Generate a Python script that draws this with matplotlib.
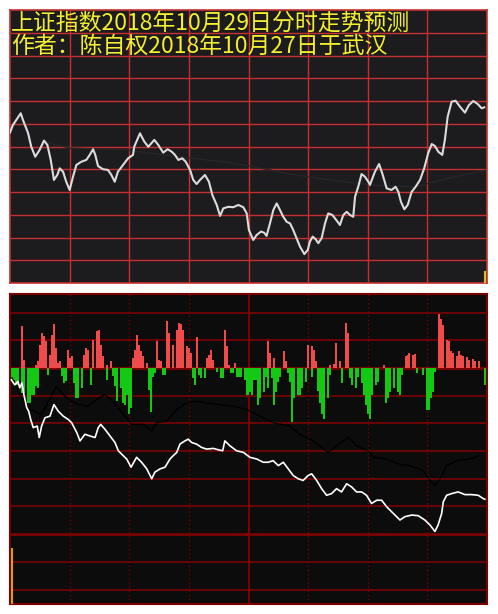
import numpy as np
import matplotlib
matplotlib.use('Agg')
import matplotlib.pyplot as plt

plt.rcParams['font.family'] = ['Noto Sans CJK SC', 'DejaVu Sans']

title_1 = '上证指数2018年10月29日分时走势预测'
title_2 = '作者：陈自权2018年10月27日于武汉'

# top panel: forecast intraday curve (minutes after open, index points)
price_t = [0, 1.5, 5.4, 6.5, 9.1, 10.7, 12.7, 14.9, 17.1, 18.8, 20.5, 22.1, 23.8, 25.0, 26.7,
           28.3, 30.0, 31.7, 33.4, 35.9, 38.4, 40.1, 41.8, 42.9, 44.3, 46.8, 49.3, 51.0, 52.7,
           54.3, 56.9, 59.4, 61.9, 62.5, 65.4, 67.6, 69.6, 72.6, 74.6, 77.1, 79.3, 81.4, 83.0,
           84.7, 86.7, 88.4, 90.6, 92.2, 93.9, 95.6, 98.1, 100.1, 101.8, 104.0, 105.7, 107.3,
           109.8, 112.3, 114.9, 117.4, 119.1, 120.2, 122.4, 124.1, 126.3, 127.9, 129.1, 130.8,
           132.5, 134.2, 135.8, 137.5, 139.2, 140.9, 142.5, 144.2, 145.9, 148.1, 149.8, 150.9,
           152.3, 153.8, 155.1, 156.8, 158.5, 160.1, 162.2, 164.4, 166.0, 167.7, 169.4, 171.1,
           172.7, 173.6, 175.2, 176.9, 178.6, 180.3, 181.1, 183.6, 185.7, 187.3, 189.5, 192.0,
           194.0, 195.4, 196.7, 198.4, 200.1, 202.1, 204.1, 206.3, 208.4, 210.4, 212.2, 213.8,
           215.5, 217.5, 218.8, 220.2, 222.2, 224.2, 226.4, 228.9, 230.9, 233.1, 235.3, 237.3,
           238.6]
price_v = [2606.1, 2609.5, 2614.6, 2611.7, 2605.9, 2599.9, 2595.5, 2598.5, 2602.6, 2600.7,
           2594.1, 2585.3, 2587.5, 2590.4, 2588.9, 2584.5, 2580.9, 2586.7, 2591.9, 2593.3,
           2594.1, 2596.3, 2598.8, 2596.3, 2591.4, 2590.0, 2589.7, 2587.5, 2584.5, 2588.9,
           2591.9, 2594.8, 2596.3, 2599.9, 2605.8, 2602.1, 2599.9, 2602.9, 2600.7, 2597.3,
           2598.8, 2597.7, 2596.3, 2594.1, 2594.8, 2593.3, 2589.7, 2585.3, 2583.5, 2585.3,
           2587.5, 2584.5, 2578.7, 2574.3, 2569.5, 2572.8, 2573.5, 2573.3, 2574.3, 2573.3,
           2570.6, 2563.3, 2558.9, 2561.1, 2562.6, 2562.1, 2560.7, 2566.2, 2572.1, 2575.0,
           2572.1, 2569.1, 2566.9, 2566.2, 2563.3, 2559.7, 2556.0, 2552.7, 2554.5, 2558.2,
           2560.4, 2559.2, 2557.5, 2559.7, 2566.2, 2570.6, 2569.9, 2567.4, 2565.5, 2569.9,
           2571.3, 2569.9, 2569.1, 2577.9, 2582.3, 2587.9, 2586.7, 2584.5, 2583.1, 2588.9,
           2592.3, 2588.2, 2581.6, 2580.9, 2582.3, 2580.1, 2575.7, 2572.4, 2574.3, 2580.1,
           2582.3, 2585.3, 2590.4, 2597.0, 2601.1, 2600.2, 2597.7, 2596.3, 2602.9, 2613.1,
           2619.7, 2620.1, 2617.5, 2614.9, 2618.2, 2620.0, 2618.7, 2616.8, 2617.2]
avg_t = [17.6, 30.2, 57.9, 85.5, 108.1, 120.7, 140.9, 161.0, 181.1, 203.7, 221.3, 240]
avg_v = [2602.0, 2599.3, 2598.5, 2595.4, 2593.2, 2591.4, 2587.9, 2585.3, 2583.1, 2582.2,
         2586.2, 2589.7]
top_vol_t = 239
top_vol = 5.3

# bottom panel: red / green strength bars (minute, height)
red_t = [6, 7, 13, 14, 15, 16, 17, 18, 20, 21, 22, 23, 24, 25, 29, 30, 31, 37, 38, 39, 42, 44,
         45, 46, 47, 49, 51, 62, 63, 64, 65, 66, 67, 69, 74, 75, 76, 79, 80, 82, 84, 85, 86,
         87, 89, 90, 91, 94, 99, 100, 101, 102, 108, 109, 110, 113, 130, 131, 133, 138, 139,
         150, 152, 153, 154, 161, 163, 164, 166, 169, 170, 188, 199, 200, 201, 203, 204, 216,
         217, 218, 220, 221, 222, 223, 225, 226, 227, 228, 230, 231, 233, 234, 236]
red_h = [42, 8, 3, 7, 23, 35, 32, 27, 13, 33, 44, 20, 5, 7, 18, 10, 12, 13, 20, 18, 28, 37,
         38, 23, 12, 3, 7, 10, 18, 33, 23, 17, 12, 5, 27, 8, 7, 48, 35, 23, 38, 45, 44,
         38, 22, 20, 15, 31, 10, 13, 18, 8, 38, 22, 3, 5, 27, 15, 10, 17, 7,
         23, 22, 18, 7, 3, 4, 25, 7, 45, 35, 3, 12, 13, 15, 13, 14, 55,
         50, 43, 28, 27, 17, 15, 12, 17, 13, 12, 11, 8, 9, 7, 7]
green_t = [1, 2, 3, 4, 6, 7, 9, 10, 11, 12, 13, 14, 19, 26, 27, 28, 32, 33, 34, 36, 41, 49, 52,
           53, 54, 56, 57, 58, 59, 60, 61, 70, 71, 72, 73, 77, 78, 92, 93, 95, 96, 98, 104,
           106, 107, 111, 112, 114, 115, 116, 118, 119, 120, 121, 122, 123, 124, 125, 126, 128,
           129, 130, 132, 133, 134, 135, 136, 140, 141, 142, 143, 145, 146, 147, 149, 152, 155,
           156, 157, 158, 160, 161, 167, 171, 172, 174, 175, 177, 178, 179, 180, 181, 182, 184,
           185, 189, 190, 191, 193, 195, 196, 197, 205, 208, 210, 211, 212, 213, 214, 239]
green_h = [12, 12, 17, 17, 25, 25, 35, 35, 27, 27, 18, 20, 7, 8, 15, 13, 15, 30, 30, 20, 17, 12, 8,
           18, 33, 20, 35, 37, 27, 47, 40, 22, 44, 9, 5, 7, 7, 10, 17, 7, 10, 10, 4,
           10, 10, 5, 5, 9, 9, 9, 12, 27, 27, 24, 27, 12, 12, 37, 30, 24,
           9, 20, 10, 37, 24, 14, 9, 5, 14, 55, 30, 27, 27, 20, 14, 9, 23,
           35, 47, 52, 30, 7, 15, 10, 17, 20, 9, 15, 27, 37, 47, 52, 27, 17,
           14, 35, 30, 24, 20, 24, 27, 7, 5, 7, 42, 42, 30, 24, 4, 17]

# bottom panel curves
white_t = [0.7, 2.4, 4.0, 4.9, 6.0, 7.0, 8.4, 9.4, 10.4, 11.7, 13.7, 14.7, 15.9, 17.6, 20.1,
           22.1, 24.3, 26.8, 29.3, 31.0, 33.6, 35.2, 37.7, 40.2, 42.8, 44.4, 45.6, 47.8, 50.3,
           52.8, 54.5, 57.0, 58.7, 60.9, 63.7, 66.2, 68.8, 71.3, 72.9, 75.5, 78.0, 80.5, 82.1,
           83.9, 85.5, 88.0, 89.7, 91.4, 93.9, 96.4, 98.9, 102.3, 104.8, 107.0, 108.1, 110.7,
           114.0, 117.4, 120.7, 124.1, 127.4, 129.9, 132.4, 135.0, 137.5, 140.0, 142.5, 145.0,
           147.5, 150.0, 151.8, 154.3, 156.8, 159.3, 161.8, 164.3, 166.8, 169.4, 171.9, 174.4,
           176.9, 179.4, 181.9, 184.5, 187.0, 189.5, 192.0, 194.5, 196.2, 198.7, 202.1, 205.4,
           208.7, 211.3, 213.8, 215.4, 217.2, 218.0, 219.7, 222.2, 225.5, 228.9, 232.2, 235.6,
           238.1, 238.9]
white_v = [-12, -17, -13.7, -20, -15, -27, -40, -43.7, -52, -60.3, -58.7, -70.3, -58.7, -50.3,
           -48.7, -37, -43.7, -48.7, -52, -55.3, -65.3, -73.7, -67, -68.7, -70.3, -60.3, -57,
           -62, -68.7, -75.3, -83.7, -88.7, -92, -100.3, -90.3, -95.3, -102, -112, -105.3, -102,
           -100.3, -92, -88.7, -85.3, -77, -73.7, -72, -75.3, -77, -80.3, -82, -81.3, -82.7,
           -83.7, -73.7, -78.7, -83.7, -85.3, -90.3, -92, -95.3, -95.3, -93.7, -98.7, -95.3,
           -102, -108.7, -112, -113.7, -108.7, -107, -113.7, -122, -128.7, -127, -122, -125.3,
           -117, -120.3, -125.3, -125.3, -128.7, -137, -133.7, -133.7, -140.3, -145.3, -150.3,
           -153.7, -150.3, -148.7, -149.3, -153.7, -158.7, -165.3, -158.7, -147, -135.3, -128.7,
           -127, -125.3, -128, -128, -128.7, -132, -132.7]
black_t = [1.0, 5.0, 10.1, 15.7, 20.8, 23.3, 26.7, 30.0, 34.2, 39.2, 43.4, 47.6, 51.0, 54.3,
           58.5, 61.2, 67.1, 71.3, 73.8, 78.8, 83.9, 88.9, 93.9, 98.9, 105.6, 112.3, 119.1,
           125.8, 132.4, 140.8, 145.9, 152.6, 160.1, 164.3, 170.2, 174.4, 180.2, 182.7, 189.5,
           195.3, 201.2, 207.9, 212.1, 213.8, 216.3, 219.7, 224.7, 231.4, 237.3]
black_v = [-10, -27, -42, -47, -28.7, -18.7, -27, -32, -37, -38.7, -32, -27, -32, -40.3, -50.3,
           -57, -57, -63.7, -55.3, -53.7, -42, -35.3, -33.7, -35.3, -37, -38.7, -42, -48.7,
           -55.3, -58.7, -67, -73.7, -85.3, -78.7, -70.3, -78.7, -83.7, -90.3, -92, -97, -98.7,
           -103.7, -115.3, -118.7, -112, -98.7, -93.7, -92, -88]
first_vol_t = 1.2
first_vol = 57

fig = plt.figure(figsize=(4.98, 6.14), dpi=100)
fig.patch.set_facecolor('white')

# ---- top panel ----
ax1 = fig.add_axes([10/498, 331/614, 477/498, 273/614])
ax1.set_facecolor('#1c1c1e')
ax1.set_xlim(0, 240)
ax1.set_ylim(2540, 2660)
for x in range(30, 240, 30):
    ax1.axvline(x, color='#c83030', lw=1.0, zorder=1)
for y in range(2550, 2660, 10):
    ax1.axhline(y, color='#c83030', lw=1.0, zorder=1)
for s in ax1.spines.values():
    s.set_color('#c83030')
    s.set_linewidth(1.2)
ax1.set_xticks([])
ax1.set_yticks([])
ax1.plot(avg_t, avg_v, color='#262628', lw=1.0, zorder=2)
ax1.plot(price_t, price_v, color='#dcdcdc', lw=1.5, zorder=3)
ax1.vlines(top_vol_t, 2540, 2540 + top_vol, color='#d8c020', lw=1.5, zorder=3)
ax1.text(0.002, 0.949, title_1, transform=ax1.transAxes, color='#f4f030', fontsize=16.5,
         ha='left', va='center', zorder=5)
ax1.text(0.002, 0.868, title_2, transform=ax1.transAxes, color='#f4f030', fontsize=16.5,
         ha='left', va='center', zorder=5)

# ---- bottom panel ----
ax2 = fig.add_axes([10/498, 10/614, 477/498, 310/614])
ax2.set_facecolor('#0c0c0c')
ax2.set_xlim(0, 240)
ax2.set_ylim(-238.6, 74.8)
for y in range(-224, 57, 28):
    lw = 2.0 if y in (0, -168) else 1.2
    ax2.axhline(y, color='#7c0000', lw=lw, zorder=1)
for x in [30, 60, 90, 150, 180, 210]:
    ax2.axvline(x, color='#7c0000', lw=1.0, ls=(0, (1, 2)), zorder=1)
ax2.axvline(120, color='#7c0000', lw=1.5, zorder=1)
for s in ax2.spines.values():
    s.set_color('#7c0000')
    s.set_linewidth(1.5)
ax2.set_xticks([])
ax2.set_yticks([])

ax2.bar(red_t, red_h, width=1.0, color='#f04a4a', linewidth=0, antialiased=False, zorder=2)
ax2.bar(green_t, [-h for h in green_h], width=1.0, color='#14c814', linewidth=0,
        antialiased=False, zorder=2)
ax2.plot(black_t, black_v, color='#000000', lw=1.0, zorder=3)
ax2.plot(white_t, white_v, color='#ffffff', lw=1.2, zorder=4)
ax2.vlines(first_vol_t, -238.6, -238.6 + first_vol, color='#d8a010', lw=1.5, zorder=4)

fig.savefig('out.png', dpi=100, facecolor='white')
